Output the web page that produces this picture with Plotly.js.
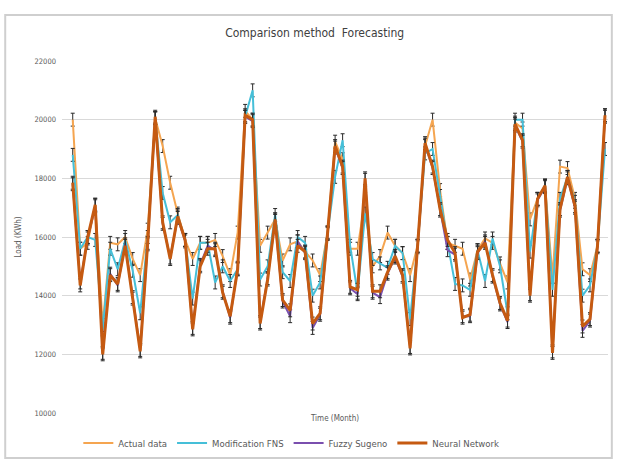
<!DOCTYPE html>
<html>
<head>
<meta charset="utf-8">
<script src="https://cdn.plot.ly/plotly-3.0.1.min.js"></script>
<style>html,body{margin:0;padding:0;background:#fff;}#chart{width:617px;height:468px;}</style>
</head>
<body>
<div id="chart"></div>
<script>
// Month index 1..72
const months = Array.from({length: 72}, (_, i) => i + 1);

const actualData = [20000,15600,15800,17100,13000,15800,15750,16000,15250,14700,16250,20050,
  19100,17850,16800,15900,15250,15800,15800,15900,15350,14700,16150,20300,
  20000,15700,16150,16600,15200,15750,15850,15500,15200,14700,16150,19250,
  18650,15600,15600,17300,15000,15350,16150,15700,15450,14700,15700,19100,
  20000,17600,15800,15700,15600,14550,15550,15950,15800,15100,14450,19900,
  19700,16600,17300,17750,14650,18400,18350,17300,14900,14700,15700,20150];

const modificationFNS = [18800,15600,16000,15900,12850,15600,14900,15900,14850,13400,16000,20050,
  17500,16500,16750,15900,13900,15800,15800,14450,15000,14500,14900,20100,
  21000,14550,15000,16750,14800,14500,16000,15800,14000,14450,16150,18050,
  19300,15700,14100,16800,15250,15100,14950,15700,15450,13200,15700,18850,
  19000,17400,15800,14400,14350,14200,15550,14500,15950,15000,13400,20000,
  20000,15500,17300,17750,14200,17300,18050,17200,14000,14350,15700,19000];

const fuzzySugeno = [17800,14450,15950,17050,12050,14750,14350,15750,13950,12150,15750,20050,
  16450,15300,16650,15850,12900,15050,15700,15550,14150,13250,14950,20100,
  19950,13100,14600,16550,13800,13300,15850,15450,12900,13350,16100,19050,
  18350,14250,14050,17950,14100,13950,14750,15300,14650,12250,15650,19150,
  18350,16900,15550,15400,13300,13300,15450,15850,14650,13700,13100,19800,
  19250,14050,17250,17700,12100,16900,18000,17000,12800,13150,15650,20100];

const neuralNetwork = [17850,14350,16000,17100,12000,14700,14400,15700,13900,12100,15800,20100,
  16500,15250,16700,15900,12850,15000,15600,15600,14100,13300,14900,20150,
  20000,13050,14550,16600,13850,13500,15700,15500,13050,13400,16150,19100,
  18400,14300,14200,18000,14150,14150,14800,15350,14700,12200,15700,19200,
  18400,16950,15900,15450,13250,13350,15500,15800,14700,13750,13150,19850,
  19300,14000,17300,17750,12050,16950,18050,17050,12950,13200,15700,20150];

const seriesNames = ['Actual data', 'Modification FNS', 'Fuzzy Sugeno', 'Neural Network'];
const seriesColors = ['#f5a550', '#45bfd8', '#7a4fae', '#c55a11'];
const seriesWidths = [2, 2, 2, 3];
const seriesValues = [actualData, modificationFNS, fuzzySugeno, neuralNetwork];

const traces = seriesValues.map((vals, k) => ({
  type: 'scatter',
  mode: 'lines',
  x: months,
  y: vals,
  name: seriesNames[k],
  line: {color: seriesColors[k], width: seriesWidths[k]},
  error_y: {type: 'constant', value: 220, visible: true, color: '#2a2a2a', thickness: 1, width: 2}
}));

const font = 'DejaVu Sans Condensed, Liberation Sans Narrow, Arial, sans-serif';

const layout = {
  width: 617, height: 468,
  margin: {l: 62, r: 9, t: 61, b: 55},
  paper_bgcolor: '#ffffff', plot_bgcolor: '#ffffff',
  font: {family: font, color: '#595959', size: 9},
  title: {text: 'Comparison method  Forecasting', x: 0.51, xanchor: 'center', y: 0.93, yanchor: 'middle',
          font: {family: font, size: 12, color: '#404040'}},
  xaxis: {
    range: [-0.43, 72.4],
    showgrid: false, zeroline: false, showticklabels: false, ticks: '',
    showline: false,
    title: {text: 'Time (Month)', font: {family: font, size: 8, color: '#595959'}, standoff: 2}
  },
  yaxis: {
    range: [10000, 22000], dtick: 2000, tick0: 10000, tickformat: 'd',
    showgrid: true, gridcolor: '#d9d9d9', gridwidth: 1, zeroline: false,
    showline: false, ticks: '', ticklabelstandoff: 5,
    tickfont: {family: font, size: 7.5, color: '#595959'},
    title: {text: 'Load (KWh)', font: {family: font, size: 8, color: '#595959'}, standoff: 11}
  },
  legend: {orientation: 'h', x: 0.42, xanchor: 'center', y: -0.085, yanchor: 'middle',
           font: {family: font, size: 9.5, color: '#595959'}, itemwidth: 30, tracegroupgap: 0},
  showlegend: true,
  shapes: [{type: 'rect', xref: 'paper', yref: 'paper', x0: -0.104, x1: 1.007, y0: -0.128, y1: 1.131,
            line: {color: '#cfcfcf', width: 2}, fillcolor: 'rgba(0,0,0,0)', layer: 'below'}]
};

Plotly.newPlot('chart', traces, layout, {displayModeBar: false, staticPlot: true});
</script>
</body>
</html>
